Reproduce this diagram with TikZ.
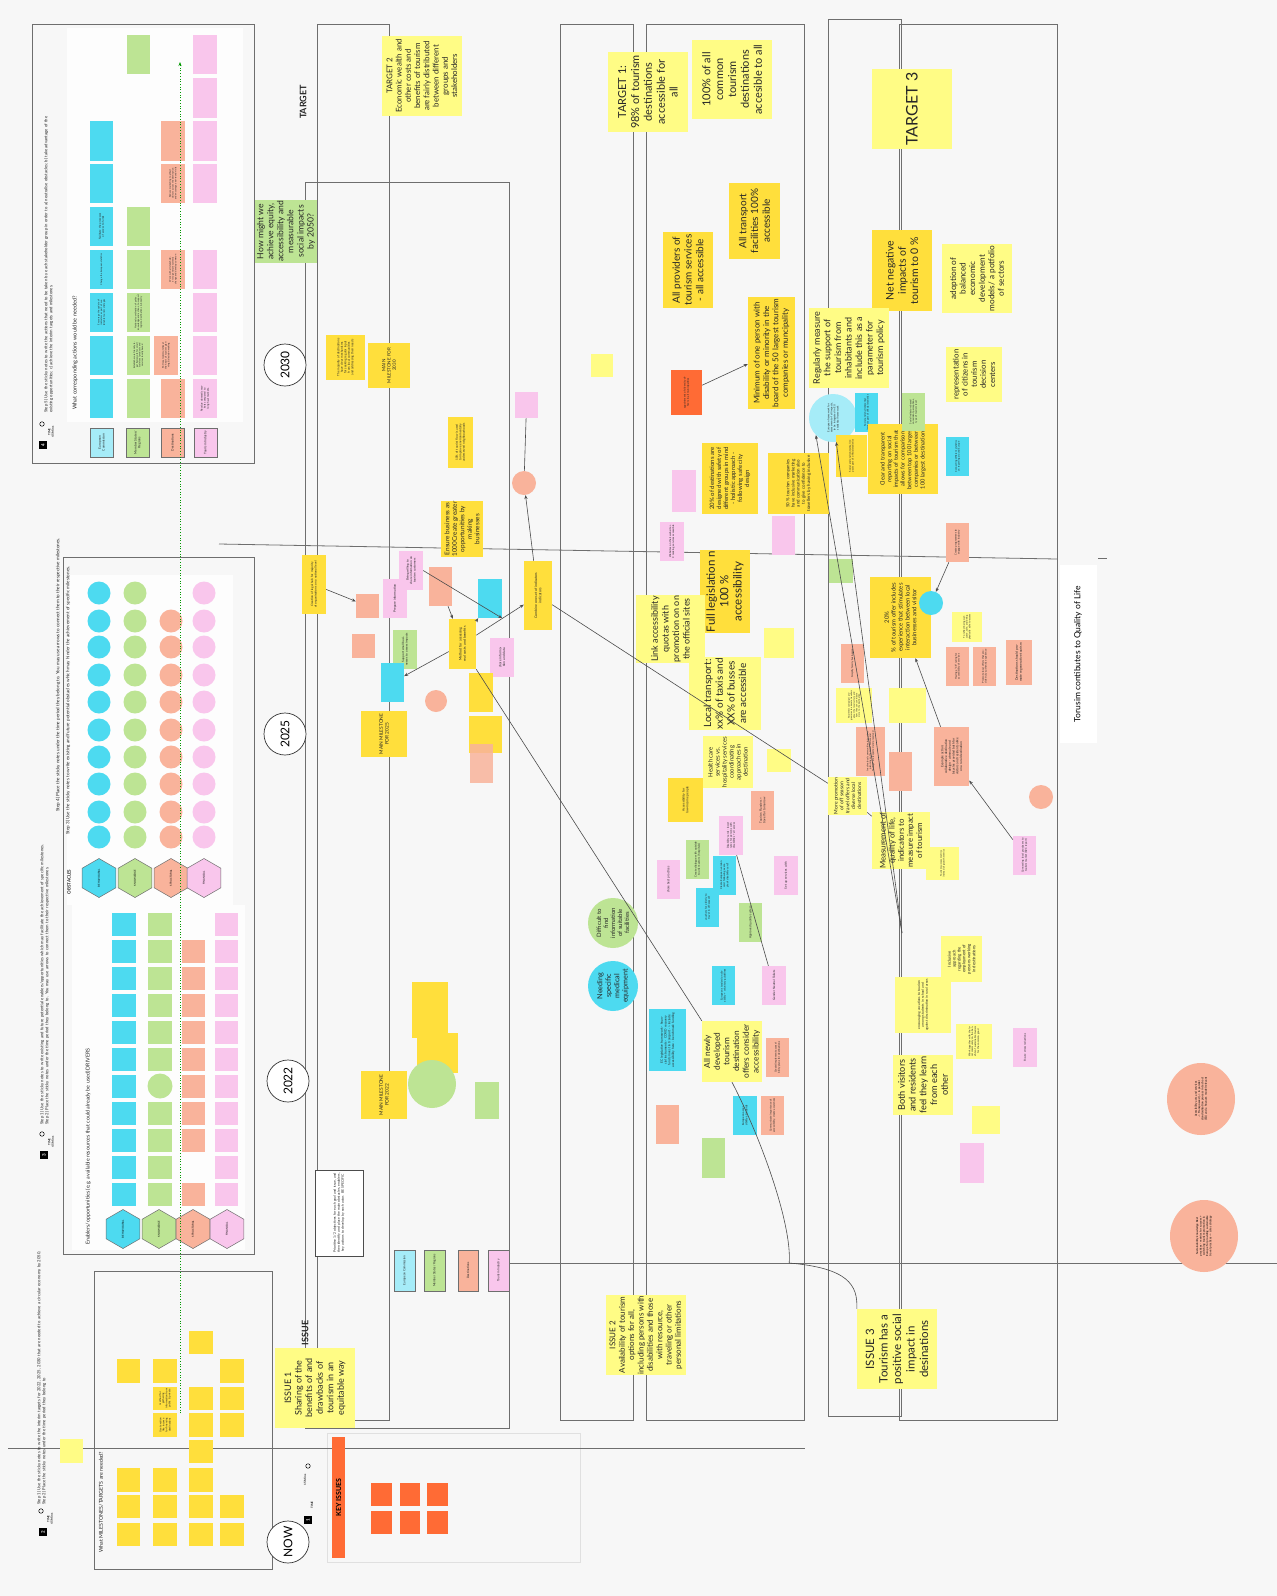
\documentclass[tikz,border=0pt]{standalone}
\usepackage{fontspec}
\setmainfont{Lato}
\usetikzlibrary{arrows.meta,shapes.geometric}
\definecolor{cy}{HTML}{4DDAF0}
\definecolor{lcy}{HTML}{A6ECF8}
\definecolor{gr}{HTML}{BDE494}
\definecolor{sa}{HTML}{F9B39B}
\definecolor{pk}{HTML}{F9C6EC}
\definecolor{ly}{HTML}{FFFC85}
\definecolor{dy}{HTML}{FFDF3C}
\definecolor{og}{HTML}{FF6B35}
\definecolor{bgc}{HTML}{F7F7F7}
\definecolor{fr}{HTML}{6E6E6E}
\newcommand{\fs}[1]{\fontsize{#1}{\fpeval{#1*1.17}}\selectfont}
% small note, wrapped text: #1 options, #2 name, #3 colour, #4 x1, #5 y1, #6 x2, #7 y2, #8 font size, #9 text
\newcommand{\stk}[9][]{\node[stk, fill=#3, minimum width={(#7-#5)*1pt}, minimum height={(#6-#4)*1pt}, text width=\fpeval{#7-#5-3}pt, font=\fs{#8}, #1] (#2) at ({(#4+#6)/2},{(#5+#7)/2}) {#9};}
% note with explicit line breaks
\newcommand{\stb}[9][]{\node[stk, fill=#3, minimum width={(#7-#5)*1pt}, minimum height={(#6-#4)*1pt}, font=\fs{#8}, #1] (#2) at ({(#4+#6)/2},{(#5+#7)/2}) {#9};}
% round note: #1 options, #2 name, #3 colour, #4 x, #5 y, #6 radius, #7 font size, #8 text
\newcommand{\cnt}[8][]{\node[circle, rotate=90, inner sep=0.5pt, align=center, text=black!85, fill=#3, minimum size={2*#6*1pt}, font=\fs{#7}, #1] (#2) at (#4,#5) {#8};}
\begin{document}
\begin{tikzpicture}[x=1pt,y=-1pt,
 stk/.style={rotate=90, inner sep=0.8pt, align=center, text=black!85, draw=none},
 frame/.style={draw=fr, line width=0.8pt},
 conn/.style={draw=black!70, line width=0.6pt},
 arr/.style={conn, -{Stealth[length=4pt,width=3.2pt]}},
 yearc/.style={circle, draw=black!80, line width=0.7pt, fill=white, minimum size=42pt, inner sep=0, rotate=90, font=\fs{12}},
 hexa/.style={regular polygon, regular polygon sides=6, minimum size=39pt, inner sep=0, draw=fr, line width=0.5pt, rotate=90, font=\fs{2.6}},
 dot/.style={circle, inner sep=0, minimum size=23pt, rotate=90, font=\fs{2}, align=center},
 lbl/.style={rotate=90, inner sep=0, text=black!85},
 numbox/.style={fill=black, text=white, font=\fs{4.5}\bfseries, minimum size=8pt, inner sep=0, rotate=90},
 watch/.style={circle, draw=black, line width=0.5pt, minimum size=4.5pt, inner sep=0},
 rowlab/.style={draw=fr, line width=0.5pt}]
\fill[bgc] (0,0) rectangle (1277,1596);
\useasboundingbox (0,0) rectangle (1277,1596);

% ---------- frames ----------
\fill[white!70!bgc] (67,28) rectangle (243,422);
\fill[white!70!bgc] (67,575) rectangle (233,905);
\fill[white!70!bgc] (72,905) rectangle (245,1250);
\draw[frame] (32,24) rectangle (254,463);
\draw[frame] (63,557) rectangle (254,1254);
\draw[frame] (94,1271) rectangle (272,1569);
\draw[draw=black!12] (327,1433) rectangle (580,1562);
\draw[frame] (317,24) rectangle (389,1420);
\draw[frame] (305,182) rectangle (509,1428);
\draw[frame] (560,24) rectangle (633,1420);
\draw[frame] (646,24) rectangle (804,1420);
\draw[frame] (828,19) rectangle (901,1416);
\draw[frame] (899,24) rectangle (1057,1420);
\coordinate (h1a) at (8,1448); \coordinate (h1b) at (805,1448);
\coordinate (h2a) at (509,1263); \coordinate (h2b) at (1277,1263);
\coordinate (h3a) at (219,544); \coordinate (h3b) at (1057,559);
\coordinate (h4a) at (1098,558); \coordinate (h4b) at (1107,558);
\draw[frame] (h1a) -- (h1b);
\draw[frame] (h2a) -- (h2b);
\draw[frame] (h3a) -- (h3b);
\draw[frame] (h4a) -- (h4b);

% ---------- step 4 ----------
\node[numbox] (n4) at (43,445) {4};
\node[watch] (w4) at (42,424) {};
\node[lbl, font=\fs{3}\bfseries, align=center] (t4) at (51,432) {TIME\\45 Mins};
\node[lbl, anchor=north west, align=left, text width=300pt, font=\fs{4.2}] (st5) at (44,413) {Step 5) Use the sticky notes to write the actions that need to be taken by each stakeholder group in order to a) neutralise obstacles; b) take advantage of the existing opportunities; c) achieve the interim targets and milestones.};
\node[lbl, anchor=west, font=\fs{5.5}] (wca) at (75,410) {What corresponding actions would be needed?};
\stk[rowlab]{rl1}{lcy}{90}{428}{113}{457}{3.2}{European Commission}
\stk[rowlab]{rl2}{gr}{126}{428}{149}{457}{3.2}{Member States/ Regions}
\stk[rowlab]{rl3}{sa}{161}{428}{184}{457}{3.2}{Destinations}
\stk[rowlab]{rl4}{pk}{194}{428}{217}{457}{3.2}{Tourism Industry}
\stk{a11}{cy}{90}{379}{113}{418}{2.3}{}
\stk{a12}{cy}{90}{336}{113}{375}{2.3}{}
\stk{a13}{cy}{90}{293}{113}{332}{2.3}{Encourage the update of indicators as part of sustainable tourism strategies}
\stk{a14}{cy}{90}{250}{113}{289}{2.3}{Change the European statistics}
\stk{a15}{cy}{90}{207}{113}{246}{2.6}{Facilitate the processes of access to funds}
\stk{a16}{cy}{90}{164}{113}{203}{2.3}{}
\stk{a17}{cy}{90}{121}{113}{161}{2.3}{}
\stk{a21}{gr}{127}{379}{150}{418}{2.3}{}
\stk{a22}{gr}{127}{336}{150}{375}{2.3}{Establish more friendly legal framework for small scale local products and services locally based}
\stk{a23}{gr}{127}{293}{150}{332}{2.3}{National coordination of policy, knowledge and actions, to support regions, destinations \& industry}
\stk{a24}{gr}{127}{250}{150}{289}{2.3}{}
\stk{a25}{gr}{127}{207}{150}{246}{2.3}{}
\stk{a29}{gr}{127}{35}{150}{74}{2.3}{}
\stk{a31}{sa}{161}{379}{185}{418}{2.3}{}
\stk{a32}{sa}{154}{336}{178}{375}{2.4}{Put local communities at the heart of tourism planning \& decision making}
\stk{a34}{sa}{161}{250}{185}{289}{2.3}{Work with all stakeholders to generate systemic change and develop common}
\stk{a36}{sa}{161}{164}{185}{203}{2.3}{Reduce marketing to attract visitors across the destination and encourage year-round visits}
\stk{a37}{sa}{161}{121}{185}{161}{2.3}{}
\stk{a41}{pk}{193}{379}{217}{418}{2.6}{Revalue domestic markets compared to long haul markets.}
\stk{a42}{pk}{193}{336}{217}{375}{2.3}{}
\stk{a43}{pk}{193}{293}{217}{332}{2}{}
\stk{a44}{pk}{193}{250}{217}{289}{2}{}
\stk{a46}{pk}{193}{164}{217}{203}{2}{}
\stk{a47}{pk}{193}{121}{217}{161}{2}{}
\stk{a48}{pk}{193}{78}{217}{118}{2}{}
\stk{a49}{pk}{193}{35}{217}{74}{2}{}

% ---------- step 3 ----------
\node[numbox] (n3) at (44,1155) {3};
\node[watch] (w3) at (42,1134) {};
\node[lbl, font=\fs{3}\bfseries, align=center] (t3) at (51,1142) {TIME\\45 Mins};
\node[lbl, anchor=north west, align=left, text width=310pt, font=\fs{4.2}] (st12) at (40,1125) {Step 1) Use the sticky notes to write existing and future potential enablers/opportunities which may facilitate the achievement of specific milestones.\\Step 2) Place the sticky notes under the time period they belong to. You may use arrows to connect them to their respective milestones.};
\node[lbl, anchor=west, font=\fs{4.6}] (st4) at (58,812) {Step 4) Place the sticky notes under the time period they belong to. You may use arrows to connect them to their respective milestones.};
\node[lbl, anchor=west, font=\fs{4.6}] (st3) at (68,835) {Step 3) Use the sticky notes to write existing and future potential obstacles which may hinder the achievement of specific milestones.};
\node[lbl, font=\fs{4.5}\bfseries] (obst) at (69,882) {OBSTACLES};
\node[lbl, anchor=west, font=\fs{5.3}] (enab) at (88,1245) {Enablers/opportunities (e.g. available resources that could already be used) DRIVERS};
\node[hexa, fill=cy] (ho1) at (99,878) {BEHAVIOURAL};
\node[hexa, fill=gr] (ho2) at (135,878) {KNOWLEDGE};
\node[hexa, fill=sa] (ho3) at (171,878) {STRUCTURAL};
\node[hexa, fill=pk] (ho4) at (204,878) {FINANCIAL};
\foreach \y [count=\i] in {593,621,647,675,702,730,757,784,812,837} {
  \node[dot, fill=cy] (oa\i) at (99,\y) {};
  \node[dot, fill=gr] (ob\i) at (135,\y) {};
  \ifnum\i>1 \node[dot, fill=sa] (oc\i) at (171,\y) {};\fi
  \node[dot, fill=pk] (od\i) at (204,\y) {};
}
\node[hexa, fill=cy] (he1) at (123,1229) {BEHAVIOURAL};
\node[hexa, fill=gr] (he2) at (159,1229) {KNOWLEDGE};
\node[hexa, fill=sa] (he3) at (193,1229) {STRUCTURAL};
\node[hexa, fill=pk] (he4) at (227,1229) {FINANCIAL};
\foreach \y [count=\i] in {924,951,978,1005,1032,1059,1086,1113,1140,1167,1194} {
  \node[stk, fill=cy, minimum width=23pt, minimum height=24pt] (ea\i) at (124,\y) {};
  \ifnum\i=7 \node[dot, fill=gr, minimum size=25pt] (eb\i) at (160,\y) {};
  \else \node[stk, fill=gr, minimum width=23pt, minimum height=24pt] (eb\i) at (160,\y) {};\fi
  \ifnum\i>1 \ifnum\i<10 \node[stk, fill=sa, minimum width=23pt, minimum height=23pt] (ec\i) at (193,\y) {};\fi\fi
  \ifnum\i=11 \node[stk, fill=sa, minimum width=23pt, minimum height=23pt] (ec\i) at (193,\y) {};\fi
  \node[stk, fill=pk, minimum width=23pt, minimum height=23pt] (ed\i) at (226,\y) {};
}

% ---------- step 2 ----------
\node[numbox] (n2) at (43,1532) {2};
\node[watch] (w2) at (41,1511) {};
\node[lbl, font=\fs{3}\bfseries, align=center] (t2) at (50,1519) {TIME\\45 Mins};
\node[lbl, anchor=north west, align=left, text width=280pt, font=\fs{4.2}] (st2) at (37,1505) {Step 1) Use the sticky notes to write the interim targets for 2022, 2025, 2030 that are needed to achieve a circular economy by 2050.\\Step 2) Place the sticky notes under the time period they belong to};
\node[lbl, anchor=west, font=\fs{5.3}] (wmt) at (101,1553) {What MILESTONES/TARGETS are needed?};
\stk{lysq}{ly}{60}{1439}{83}{1463}{2}{}
\stk{s2a}{dy}{117}{1359}{140}{1383}{2}{}
\stk{s2b}{dy}{117}{1468}{140}{1492}{2}{}
\stk{s2c}{dy}{117}{1495}{140}{1518}{2}{}
\stk{s2d}{dy}{117}{1523}{140}{1546}{2}{}
\stk{s2e}{dy}{153}{1359}{177}{1383}{2}{}
\stk{s2f}{dy}{153}{1387}{177}{1410}{2.6}{method for gathering information from public \& private}
\stk{s2g}{dy}{153}{1413}{177}{1437}{2.6}{Use taxation like income for financing destinations}
\stk{s2h}{dy}{153}{1468}{177}{1492}{2}{}
\stk{s2i}{dy}{153}{1495}{177}{1518}{2}{}
\stk{s2j}{dy}{153}{1523}{177}{1546}{2}{}
\stk{s2k}{dy}{189}{1331}{213}{1354}{2}{}
\stk{s2l}{dy}{189}{1387}{213}{1410}{2}{}
\stk{s2m}{dy}{189}{1413}{213}{1437}{2}{}
\stk{s2n}{dy}{189}{1440}{213}{1463}{2}{}
\stk{s2o}{dy}{189}{1468}{213}{1492}{2}{}
\stk{s2p}{dy}{189}{1495}{213}{1518}{2}{}
\stk{s2q}{dy}{189}{1523}{213}{1546}{2}{}
\stk{s2r}{dy}{220}{1359}{244}{1383}{2}{}
\stk{s2s}{dy}{220}{1387}{244}{1410}{2}{}
\stk{s2t}{dy}{220}{1413}{244}{1437}{2}{}
\stk{s2u}{dy}{220}{1495}{244}{1518}{2}{}
\stk{s2v}{dy}{220}{1523}{244}{1546}{2}{}
\coordinate (ga) at (180,1413);
\coordinate (gb) at (180,62);
\draw[draw=green!60!black, dotted, line width=0.7pt, -{Stealth[length=4pt,width=3pt]}] (ga) -- (gb);

% ---------- key issues ----------
\node[numbox] (n1) at (308,1520) {1};
\node[lbl, font=\fs{3}\bfseries] (t1) at (312,1505) {TIME};
\node[lbl, font=\fs{3}\bfseries] (m1) at (305,1480) {15 Mins};
\node[watch] (w1) at (308,1466) {};
\node[fill=og, rotate=90, minimum width=121pt, minimum height=13pt, inner sep=0, font=\fs{7}\bfseries] (keyi) at (338.5,1497.5) {KEY ISSUES};
\stk{k1}{og}{371}{1483}{392}{1506}{2}{}
\stk{k2}{og}{400}{1483}{420}{1506}{2}{}
\stk{k3}{og}{427}{1483}{448}{1506}{2}{}
\stk{k4}{og}{371}{1511}{392}{1534}{2}{}
\stk{k5}{og}{400}{1511}{420}{1534}{2}{}
\stk{k6}{og}{427}{1511}{448}{1534}{2}{}

% ---------- time circles & headings ----------
\node[yearc] (c2030) at (285,365) {2030};
\node[yearc] (c2025) at (285,734) {2025};
\node[yearc] (c2022) at (288,1081) {2022};
\node[yearc] (cnow) at (288,1542) {NOW};
\node[lbl, font=\fs{9}\bfseries] (ttarget) at (303,102) {TARGET};
\node[lbl, font=\fs{9}\bfseries] (tissue) at (305,1333) {ISSUE};

% ---------- column B/C ----------
\stb{tg2}{ly}{382}{36}{462}{116}{7.9}{TARGET 2\\Economic wealth and\\other costs and\\benefits of tourism\\are fairly distributed\\between different\\groups and\\stakeholders}
\stb{hmw}{gr}{255}{200}{317}{263}{8.6}{How might we\\achieve equity,\\accessibility and\\measurable\\social impacts\\by 2050?}
\stk{maj}{dy}{326}{335}{365}{380}{3}{The majority of destinations have clear mechanisms for seeking regular input from local communities and addressing their needs}
\stb{mm30}{dy}{368}{343}{410}{388}{4.5}{MAIN\\MILESTONE FOR\\2030}
\stk{ten}{dy}{448}{417}{473}{468}{3}{10\% of tourist flow is used to improve environmentally underserved neighbourhoods}
\stk{obj}{pk}{515}{392}{538}{418}{2.3}{}
\cnt{scirc}{sa}{524}{483}{12}{2}{}
\stb{ens}{dy}{441}{501}{483}{557}{6.4}{Ensure business as\\1000Create greater\\opportunities by\\making\\businesses}
\stk{leg}{dy}{302}{555}{326}{614}{3}{Creation of legal hub for majority of organisations on a national level}
\stk{sq1}{sa}{356}{594}{379}{618}{3}{}
\stk{prep}{pk}{383}{579}{407}{618}{3.2}{Prepare information}
\stk{will}{pk}{399}{551}{423}{590}{3}{Being willing to share information on tourism customers}
\stk{tax}{sa}{429}{567}{452}{606}{2.5}{}
\stk{sup}{cy}{478}{579}{502}{618}{2.5}{}
\stb{comb}{dy}{524}{561}{552}{630}{3.5}{Combine one set of indicators\\indicators}
\stk{cost}{sa}{352}{634}{375}{658}{2.5}{}
\stk{ssb}{gr}{393}{630}{417}{669}{3}{Support small businesses to assess impacts}
\stk{meth}{dy}{449}{619}{476}{669}{3.5}{Method for assessing real costs and benefits}
\stk{shar}{pk}{490}{638}{514}{677}{3.2}{share information and data}
\stk{accd}{cy}{381}{663}{404}{702}{2.5}{}
\cnt{nod}{sa}{436}{701}{11}{2}{}
\stb{mm25}{dy}{361}{711}{407}{757}{4.8}{MAIN MILESTONE\\FOR 2025}
\stk{yb1}{dy}{469}{673}{493}{712}{2.5}{}
\stk{yb2}{dy}{469}{716}{502}{753}{2.5}{}
\stk[fill opacity=0.85]{sab}{sa}{470}{744}{493}{783}{2}{}
\stk{spc}{dy}{412}{982}{448}{1038}{3}{}
\stk{red}{dy}{417}{1033}{458}{1073}{3}{}
\cnt{msc}{gr}{432}{1084}{24}{2.6}{}
\stb{mm22}{dy}{361}{1071}{407}{1119}{4.8}{MAIN MILESTONE\\FOR 2022}
\stk{enc}{gr}{475}{1082}{499}{1119}{2.5}{}
\stk[draw=black!70, line width=0.5pt]{prio}{white}{315}{1170}{363}{1256}{3.4}{Prioritise 1/2 objectives for each goal and issue, and then identify and place the main obstacles, enablers, key actions to develop by each actor. BE SPECIFIC}
\stk[rowlab]{rb1}{lcy}{394}{1250}{415}{1291}{3}{European Commission}
\stk[rowlab]{rb2}{gr}{424}{1250}{445}{1291}{3}{Member States/ Regions}
\stk[rowlab]{rb3}{sa}{458}{1250}{478}{1291}{3}{Destinations}
\stk[rowlab]{rb4}{pk}{488}{1250}{509}{1291}{3}{Tourism Industry}
\stb{is1}{ly}{275}{1348}{355}{1428}{9}{ISSUE 1\\Sharing of the\\benefits of and\\drawbacks of\\tourism in an\\equitable way}

% ---------- column D/E ----------
\stb{tg1}{ly}{608}{52}{688}{132}{11}{TARGET 1:\\98\% of tourism\\destinations\\accessible for\\all}
\stb{hun}{ly}{692}{40}{772}{119}{11}{100\% of all\\common\\tourism\\destinations\\accesible to all}
\stb{trans}{dy}{729}{183}{780}{259}{10}{All transport\\facilities 100\%\\accessible}
\stb{prov}{dy}{663}{232}{713}{308}{10}{All providers of\\tourism services\\- all accessible}
\stb{mini}{dy}{748}{297}{795}{409}{8}{Minimum of one person with\\disability or minority in the\\board of the 50 largest tourism\\companies or muncipality}
\stk{appt}{og}{671}{370}{702}{415}{2.6}{appointment of diversity officers in all municipalities}
\stk{lsq}{ly}{591}{354}{613}{377}{3}{}
\stk{give}{pk}{672}{470}{696}{512}{2.5}{}
\stb{d20}{dy}{702}{443}{758}{514}{6}{20\% of destinations are\\designed with safety of\\different groups in mind\\- holistic approach -\\following safe city\\design}
\stk{c50}{dy}{768}{453}{829}{514}{4.4}{50 \% tourism companies have inclusive marketing and communication also to give confidence to travellers by having inclusive}
\stk{inm}{pk}{772}{516}{795}{555}{2.5}{}
\stk{web}{pk}{660}{522}{684}{561}{2.6}{Websites on their website + C making services accessible}
\stb{full}{dy}{700}{553}{750}{630}{11.5}{Full legislation n\\100 \%\\accessibility}
\stb{link}{ly}{636}{595}{705}{663}{9}{Link accessibility\\quotas with\\promotion on on\\the official sites}
\stk{ensd}{ly}{764}{628}{794}{658}{2.5}{}
\stb{loc}{ly}{689}{658}{761}{729}{10}{Local transport:\\xx\% of taxis and\\XX\% of busses\\are accessible}
\stb{hc}{ly}{703}{737}{753}{787}{6}{Health care\\services vs.\\hospitality services\\coordinating\\approaches in\\destination}
\stk{smly}{ly}{767}{749}{791}{772}{2.5}{}
\stk{low}{dy}{668}{778}{703}{822}{3.2}{Accessibility for low-income people}
\stk{tfl}{sa}{751}{791}{774}{830}{3}{Tourism Flanders = travel for tomorrow}
\stk{dis}{pk}{719}{816}{743}{855}{2.6}{Disability cards - lower rates for persons with disabilities + all access}
\stk{dia}{gr}{686}{840}{709}{879}{2.8}{Create dialogue with outside tourism actors (hospitals)}
\stk{sbp}{pk}{657}{860}{680}{899}{3}{share best practices}
\stk{cec}{cy}{713}{856}{736}{895}{2.6}{Create European version card following example of disability card?}
\stk{vou}{cy}{696}{888}{719}{927}{2.6}{vouchers for elderly to travel in off-season?}
\stk{aqs}{gr}{739}{903}{762}{942}{3}{Approved quality system}
\stk{sus}{pk}{774}{856}{798}{895}{3}{Set up services with}
\cnt{diff}{gr}{613}{923}{25}{6}{Difficult to\\find\\information\\of suitable\\facilities}
\cnt{need}{cy}{613}{986}{25}{7.2}{Needing\\specific\\medical\\equipment}
\stk{ecl}{cy}{649}{1009}{686}{1071}{3.2}{EC legislative framework - financial instruments - COVID recovery funds invest in transport -> include accessibility here - benchmark funding}
\stb{newl}{ly}{702}{1021}{762}{1082}{8.3}{All newly\\developed\\tourism\\destination\\offers consider\\accessibility}
\stk{eus}{cy}{712}{966}{735}{1005}{2.6}{European standard on disability + voluntary guidelines}
\stk{gnt}{pk}{762}{966}{786}{1005}{3}{Gender Neutral Toilets}
\stk{cip}{sa}{766}{1038}{789}{1077}{2.6}{Create/implement accessibility plans for destinations}
\stk{eas}{cy}{733}{1096}{757}{1135}{2.8}{European accessibility standards}
\stk{com}{sa}{761}{1096}{784}{1135}{2.6}{Communicate importance of accessibility, create awareness}
\stk{dev}{sa}{656}{1105}{679}{1144}{2.3}{}
\stk{dcool}{gr}{702}{1138}{725}{1178}{2.3}{}
\stb{is2}{ly}{606}{1295}{686}{1375}{8}{ISSUE 2\\Availability of tourism\\options for all,\\including persons with\\disabilities and those\\with resource,\\traveling or other\\personal limitations}

% ---------- column F/G ----------
\stb{tg3}{ly}{872}{69}{952}{149}{16}{TARGET 3}
\stb{net}{dy}{872}{230}{932}{311}{10.5}{Net negative\\impacts of\\tourism to 0 \%}
\stb{adop}{ly}{942}{244}{1012}{313}{8.2}{adoption of\\balanced\\economic\\development\\models/ a potfolio\\of sectors}
\stb{reg}{ly}{809}{308}{889}{388}{9}{Regularly measure\\the support of\\tourism from\\inhabitants and\\include this as a\\parameter for\\tourism policy}
\stb{rep}{ly}{946}{347}{1002}{402}{7.8}{representation\\of citizens in\\tourism\\decision\\centers}
\cnt[text width=34pt]{euf}{lcy}{833}{418}{24}{2.6}{European framework for assessment of all impacts, to be integrated in EU statistical framework}
\stk{soc1}{cy}{855}{393}{878}{432}{2.5}{Social and environmental impacts part of official statistics}
\stk{soc2}{dy}{836}{435}{867}{477}{2.5}{Social and environmental impacts part of official statistics}
\stb{clr}{dy}{868}{424}{938}{494}{5.7}{Clear and transparent\\reporting on social\\impacts of tourism that\\allows for comparison\\between top 100 largest\\companies or between\\100 largest destinations}
\stk{sind}{gr}{902}{393}{925}{431}{2.4}{Social indicators based on resident perceptions, type of tourism level}
\stk{cds}{cy}{946}{437}{969}{476}{2.4}{Connecting different statistics on reporting around Europe}
\stk{okg}{gr}{829}{559}{853}{583}{2.5}{}
\stb{p20}{dy}{870}{577}{931}{658}{5.9}{20\%\\\% of tourism offer includes\\experience that stimulates\\interaction between local\\businesses and visitor}
\cnt{net2}{cy}{931}{603}{12}{2}{}
\stk{cpe}{sa}{946}{523}{969}{562}{2.6}{Create programmes to engage with industry}
\stk{refl}{ly}{952}{612}{982}{642}{2.4}{To reflect being welcome, safe, and being physically able to access}
\stk{ce}{sa}{946}{647}{969}{686}{2.5}{Having a "CE" rating for accessibility of services}
\stk{plo}{sa}{973}{647}{996}{686}{2.5}{Promote local offers that provide truly authentic experience}
\stk{dsp}{sa}{1006}{640}{1032}{685}{3.3}{Destinations should promote regenerative tourism}
\stk{sfb}{sa}{841}{644}{864}{683}{2.5}{Simplify family businesses}
\stk{awc}{ly}{836}{688}{872}{723}{2.2}{Awareness campaign/ programmes to educate travellers about the local culture and how they can contribute more to the destination}
\stk{fac}{ly}{889}{688}{926}{723}{2.2}{}
\stk{ilc}{sa}{856}{727}{885}{776}{2.4}{Involve local communities in tourism planning so that local culture and heritage are respected and preserved}
\stk{slp}{sa}{889}{752}{912}{791}{2.2}{}
\stb{exa}{sa}{934}{727}{969}{786}{3.2}{Example action:\\collaborative destination\\design - wimmule and\\bicycles provided both for\\visitors and residents alike\\on a rural destination}
\cnt{sc2}{sa}{1041}{797}{12}{2}{}
\stb{mop}{ly}{828}{777}{867}{815}{5}{More promotion\\of off season\\travel offers and\\diverse local\\destinations}
\stb{meas}{ly}{872}{812}{930}{869}{7.8}{Measurement of\\quality of life,\\indicators to\\measure impact\\of tourism}
\stk{tsm}{ly}{926}{847}{959}{880}{2.4}{Tourism success metrics instead of growth metrics}
\stk{clp}{pk}{1013}{836}{1036}{875}{2.6}{Connecting local producers to tourism market (B2C report)}
\stb{incl}{ly}{941}{936}{982}{982}{4.2}{Inclusive\\approach\\regarding the\\employment of\\persons working\\in destinations}
\stk{encv}{ly}{895}{977}{951}{1033}{3.3}{encouraging vocations to tourism among students in school and against discrimination in rural areas}
\stb{both}{ly}{893}{1055}{953}{1115}{9.2}{Both visitors\\and residents\\feel they learn\\from each\\other}
\stk{work}{ly}{956}{1024}{992}{1059}{2.5}{Work together with the local community on the benefits of sustainable tourism for the common good}
\stk{esr}{pk}{1013}{1028}{1037}{1067}{2.6}{Ensure stress reductions}
\stk{inc2}{ly}{972}{1106}{1000}{1134}{2.2}{}
\stk{spx}{pk}{960}{1143}{984}{1183}{2.2}{}
\stb{is3}{ly}{857}{1309}{937}{1389}{11.5}{ISSUE 3\\Tourism has a\\positive social\\impact in\\desinations}

% ---------- right side ----------
\node[fill=white, rotate=90, minimum width=178pt, minimum height=37pt, inner sep=0, font=\fs{8.5}] (tql) at (1078,654) {Torusim contibutes to Quality of Life};
\node[ellipse, fill=sa, rotate=90, minimum width=72pt, minimum height=68pt, inner sep=0, text width=46pt, align=center, font=\fs{2.8}] (el1) at (1201,1099) {Acessibility acts and services -> Transposeed (-> in parallel standardisation process in tech act (EU) and a finanum model relevant};
\node[ellipse, fill=sa, rotate=90, minimum width=72pt, minimum height=68pt, inner sep=0, text width=46pt, align=center, font=\fs{2.8}] (el2) at (1204,1236) {Sustainability knowledge Best practices - metrics for success + switching tourism promotion in Europe for providing sustainable travel practices -> sales strategy};

% ---------- connectors ----------
\draw[arr] (appt) -- (mini);
\draw[conn] (meth.south west) -- (newl.north east);
\draw[conn] (comb) -- (mop);
\draw[conn] (mop) -- (meas);
\draw[arr] (comb) -- (scirc);
\draw[conn] (scirc) -- (obj);
\draw[conn] (is3.north east) .. controls (858,1285) and (848,1268) .. (h2a -| cip.south) .. controls (792,1225) and (762,1140) .. (newl.west);
\draw[conn] (dis) -- (gnt);
\draw[arr] (cpe) -- (net2);
\draw[arr] (exa) -- (p20);
\draw[arr] (clp) -- (exa);
\coordinate (lm) at (902,933);
\draw[arr] (lm) -- (euf);
\draw[arr] (lm) -- (euf.north west);
\draw[arr] (leg) -- (sq1);
\draw[arr] (will.south) -- (sup.south west);
\draw[arr] (meth) -- (comb);
\draw[arr] (meth) -- (sup);
\draw[arr] (meth) -- (accd);
\draw[arr] (tax) -- (meth);
\end{tikzpicture}
\end{document}
